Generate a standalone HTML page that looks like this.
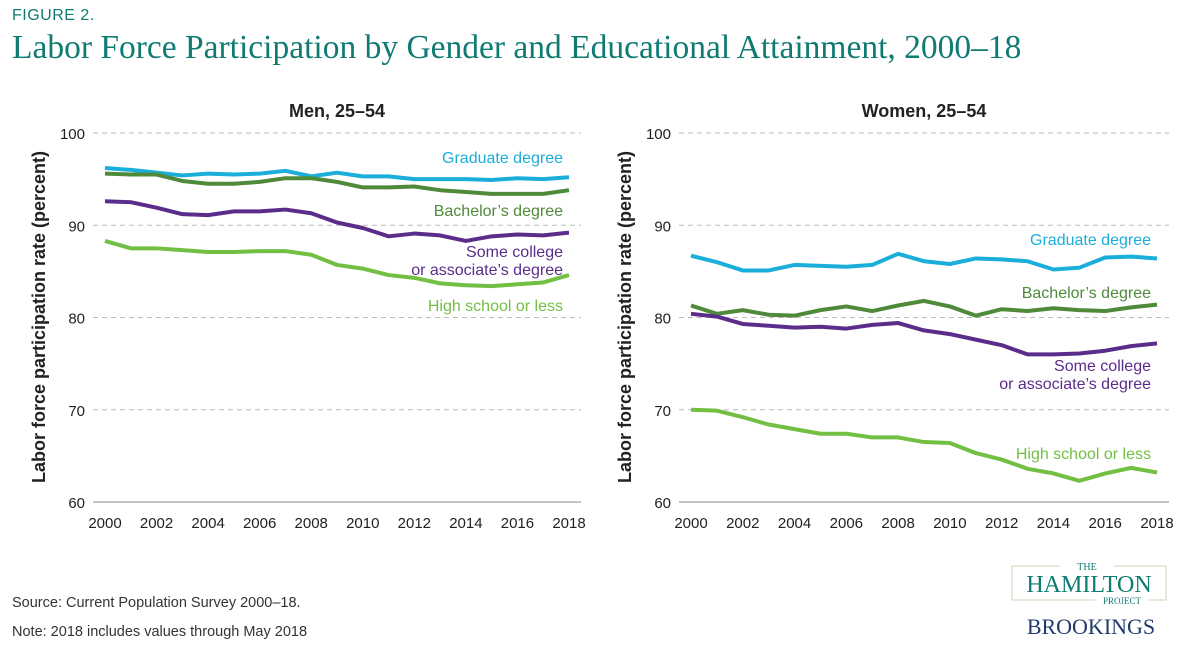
<!DOCTYPE html>
<html><head><meta charset="utf-8"><style>
body{margin:0;background:#fff;width:1200px;height:659px;overflow:hidden;font-family:"Liberation Sans",sans-serif}
</style></head><body>
<svg width="1200" height="659" id="fig">
<text x="12" y="20" font-size="16" fill="#0f7b73" font-family="Liberation Sans" letter-spacing="0.5">FIGURE 2.</text>
<text x="12" y="58" font-size="33.5" fill="#0f7b73" font-family="Liberation Serif">Labor Force Participation by Gender and Educational Attainment, 2000–18</text>
<text x="12" y="607" font-size="14.5" fill="#333">Source: Current Population Survey 2000–18.</text>
<text x="12" y="636" font-size="14.5" fill="#333">Note: 2018 includes values through May 2018</text>
<g>
<rect x="1012" y="566" width="154" height="34" fill="none" stroke="#cfe0c0" stroke-width="1.2"/>
<rect x="1060" y="561" width="54" height="10" fill="#fff"/>
<text x="1087" y="570" font-size="10" fill="#0f7b73" font-family="Liberation Serif" text-anchor="middle">THE</text>
<text x="1089" y="592" font-size="24" fill="#0f7b73" font-family="Liberation Serif" text-anchor="middle">HAMILTON</text>
<rect x="1095" y="596" width="54" height="9" fill="#fff"/>
<text x="1122" y="604" font-size="9" fill="#0f7b73" font-family="Liberation Serif" text-anchor="middle">PROJECT</text>
<text x="1091" y="634" font-size="22" fill="#1f3a6e" font-family="Liberation Serif" text-anchor="middle">BROOKINGS</text>
</g>
</svg>
<script>
const years=[2000,2001,2002,2003,2004,2005,2006,2007,2008,2009,2010,2011,2012,2013,2014,2015,2016,2017,2018];
const yTicks=[60,70,80,90,100];
const xTicks=[2000,2002,2004,2006,2008,2010,2012,2014,2016,2018];
const menGrad=[96.2,96,95.7,95.4,95.6,95.5,95.6,95.9,95.3,95.7,95.3,95.3,95.0,95.0,95.0,94.9,95.1,95.0,95.2];
const menBach=[95.6,95.5,95.5,94.8,94.5,94.5,94.7,95.1,95.1,94.7,94.1,94.1,94.2,93.8,93.6,93.4,93.4,93.4,93.8];
const menSome=[92.6,92.5,91.9,91.2,91.1,91.5,91.5,91.7,91.3,90.3,89.7,88.8,89.1,88.9,88.3,88.8,89.0,88.9,89.2];
const menHS=[88.3,87.5,87.5,87.3,87.1,87.1,87.2,87.2,86.8,85.7,85.3,84.6,84.3,83.7,83.5,83.4,83.6,83.8,84.6];
const womenGrad=[86.7,86.0,85.1,85.1,85.7,85.6,85.5,85.7,86.9,86.1,85.8,86.4,86.3,86.1,85.2,85.4,86.5,86.6,86.4];
const womenBach=[81.3,80.4,80.8,80.3,80.2,80.8,81.2,80.7,81.3,81.8,81.2,80.2,80.9,80.7,81.0,80.8,80.7,81.1,81.4];
const womenSome=[80.4,80.1,79.3,79.1,78.9,79.0,78.8,79.2,79.4,78.6,78.2,77.6,77.0,76.0,76.0,76.1,76.4,76.9,77.2];
const womenHS=[70.0,69.9,69.2,68.4,67.9,67.4,67.4,67.0,67.0,66.5,66.4,65.3,64.6,63.6,63.1,62.3,63.1,63.7,63.2];
const C={grad:"#1aaedb",bach:"#4e8a3a",some:"#5b2d8a",hs:"#72bf44"};
const NS="http://www.w3.org/2000/svg";const svg=document.getElementById('fig');
function mk(t,a,p){const e=document.createElementNS(NS,t);for(const k in a)e.setAttribute(k,a[k]);(p||svg).appendChild(e);return e;}
function txt(p,x,y,s,a){const e=mk('text',Object.assign({x:x,y:y},a),p);e.textContent=s;return e;}
function panel(x0,x1,title,series,labels,name){
 const g=mk('g',{});
 
 
 const X=v=>x0+(v-2000)*(x1-x0)/18, Y=v=>502-(v-60)*9.225;
 yTicks.forEach(t=>{
  const l=mk('line',{x1:x0-12,x2:x1+12,y1:Y(t),y2:Y(t),stroke:t==60?'#888':'#bbb','stroke-dasharray':t==60?'none':'5,4','stroke-width':1},g);
  
  
  const tl=txt(g,x0-20,Y(t)+6,String(t),{'font-size':15,'text-anchor':'end',fill:'#222'});
  
  
 });
 xTicks.forEach(t=>{const tl=txt(g,X(t),528,String(t),{'font-size':15,'text-anchor':'middle',fill:'#222'});
  
  });
 const tt=txt(g,(x0+x1)/2,117,title,{'font-size':18,'font-weight':'bold','text-anchor':'middle',fill:'#222'});
 
 
 const at=txt(g,0,0,'Labor force participation rate (percent)',{'font-size':18,'font-weight':'bold','text-anchor':'middle',fill:'#222',transform:`translate(${x0-60},${317}) rotate(-90)`});
 
 
 series.forEach(s=>{
  const p=mk('polyline',{points:years.map((y,i)=>X(y)+','+Y(s.v[i])).join(' '),fill:'none',stroke:s.c,'stroke-width':4,'stroke-linejoin':'round'},g);
  
  
 });
 labels.forEach(l=>{
  l.t.forEach((s,i)=>{const e=txt(g,x1-6,l.y+i*18,s,{'font-size':16,'text-anchor':'end',fill:l.c});
   
   });
 });
}
panel(105,569,'Men, 25–54',[{v:menGrad,c:C.grad,n:'graduate'},{v:menBach,c:C.bach,n:'bachelor'},{v:menSome,c:C.some,n:'some-college'},{v:menHS,c:C.hs,n:'high-school'}],
 [{t:['Graduate degree'],y:163,c:C.grad,n:'graduate'},{t:["Bachelor’s degree"],y:216,c:C.bach,n:'bachelor'},{t:['Some college',"or associate’s degree"],y:257,c:C.some,n:'some-college'},{t:['High school or less'],y:311,c:C.hs,n:'high-school'}],'men-panel');
panel(691,1157,'Women, 25–54',[{v:womenGrad,c:C.grad,n:'graduate'},{v:womenBach,c:C.bach,n:'bachelor'},{v:womenSome,c:C.some,n:'some-college'},{v:womenHS,c:C.hs,n:'high-school'}],
 [{t:['Graduate degree'],y:245,c:C.grad,n:'graduate'},{t:["Bachelor’s degree"],y:298,c:C.bach,n:'bachelor'},{t:['Some college',"or associate’s degree"],y:371,c:C.some,n:'some-college'},{t:['High school or less'],y:459,c:C.hs,n:'high-school'}],'women-panel');
</script>
</body></html>
